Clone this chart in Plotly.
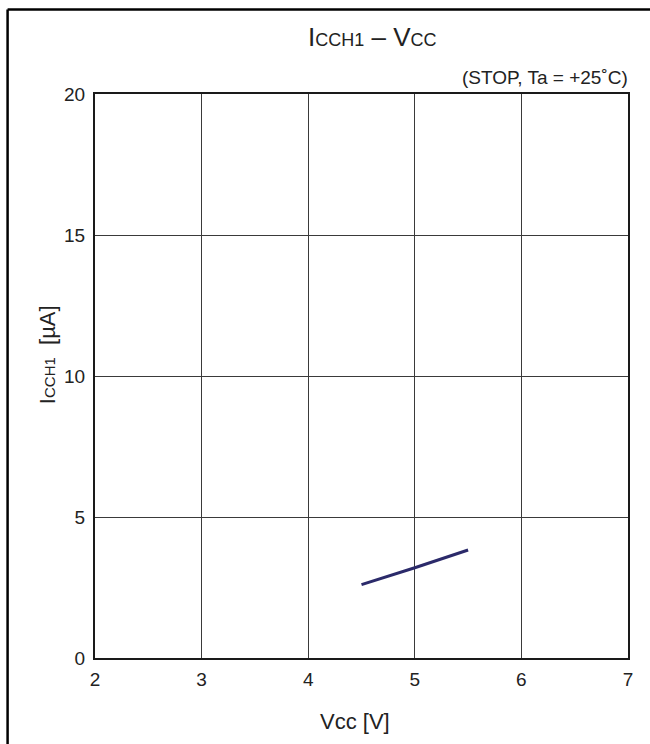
import plotly.graph_objects as go

# data
vcc = [4.5, 5.0, 5.5]
icch1 = [2.6, 3.2, 3.83]

x_ticks = [2, 3, 4, 5, 6, 7]
y_ticks = [0, 5, 10, 15, 20]

font_family = "Arial, Liberation Sans, sans-serif"
txt = "#222"

fig = go.Figure()
fig.add_trace(go.Scatter(x=vcc, y=icch1, mode="lines",
                         line=dict(color="#2b2a6a", width=3),
                         showlegend=False))

axis_common = dict(showgrid=True, gridcolor="#3a3a3a", gridwidth=1,
                   showline=True, linecolor="#1a1a1a", linewidth=2, mirror=True,
                   zeroline=False, ticks="",
                   tickfont=dict(family=font_family, size=19, color=txt))

fig.update_xaxes(range=[2, 7], tickvals=x_ticks, ticklabelstandoff=3, **axis_common)
fig.update_yaxes(range=[0, 20], tickvals=y_ticks, ticklabelstandoff=4, **axis_common)

# outer frame: only its left and top edges are inside the window
frame = dict(color="black", width=2.5)
fig.add_shape(type="line", xref="paper", yref="paper",
              x0=-0.164, x1=-0.164, y0=-0.3, y1=1.150, line=frame)
fig.add_shape(type="line", xref="paper", yref="paper",
              x0=-0.164, x1=1.3, y0=1.150, y1=1.150, line=frame)

def small(s, size):
    return "<span style='font-size:%dpx'>%s</span>" % (size, s)

fig.add_annotation(text="I" + small("CCH1", 18) + " – V" + small("CC", 18),
                   xref="paper", yref="paper", x=0.52, y=1.101,
                   xanchor="center", yanchor="middle",
                   showarrow=False, font=dict(family=font_family, size=26, color=txt))
fig.add_annotation(text="(STOP, Ta = +25˚C)", xref="paper", yref="paper",
                   x=1.004, y=1.030, xanchor="right", yanchor="middle",
                   showarrow=False, font=dict(family=font_family, size=19, color=txt))
fig.add_annotation(text="I" + small("CCH1", 15) + "&nbsp;&nbsp;[µA]", textangle=-90,
                   xref="paper", yref="paper", x=-0.090, y=0.537,
                   xanchor="center", yanchor="middle",
                   showarrow=False, font=dict(family=font_family, size=22, color=txt))
fig.add_annotation(text="Vcc [V]", xref="paper", yref="paper",
                   x=0.488, y=-0.113, xanchor="center", yanchor="middle",
                   showarrow=False, font=dict(family=font_family, size=22, color=txt))

fig.update_layout(width=650, height=744,
                  margin=dict(l=95, r=22, t=94, b=86),
                  paper_bgcolor="white", plot_bgcolor="white")

# drop the default body margin so the figure fills the window exactly
fig.write_html("out.html", config={"displayModeBar": False},
               post_script="document.body.style.margin='0';document.body.style.overflow='hidden';")
